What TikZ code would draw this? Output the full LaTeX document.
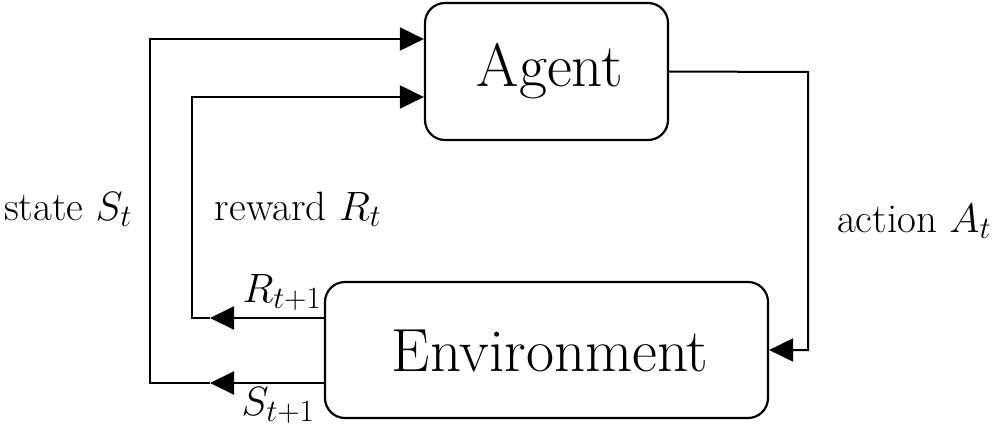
\documentclass[tikz,border=0pt]{standalone}
\usepackage{fix-cm}
\usetikzlibrary{arrows.meta}
\DeclareMathSizes{41}{41}{31}{24}
\tikzset{
  box/.style={draw, line width=2.2pt, rounded corners=20pt, inner sep=0pt},
  conn/.style={line width=2pt},
  arr/.style={conn, -{Triangle[length=24pt,width=23pt]}},
  bigtext/.style={font=\fontsize{61}{64}\selectfont, anchor=base, inner sep=0pt},
  lab/.style={font=\fontsize{41}{44}\selectfont, anchor=base, inner sep=0pt},
}
\begin{document}
\begin{tikzpicture}[x=1pt,y=-1pt]
\useasboundingbox (0,0) rectangle (1000,429);
% boxes
\node[box, minimum width=243pt, minimum height=137pt] (agent) at (546.5,71.5) {};
\node[box, minimum width=443pt, minimum height=136pt] (env) at (546.5,350) {};
\node[bigtext] (agenttext) at (550,86) {Agent};
\node[bigtext] (envtext) at (550,371) {Environment};
% coordinates
\coordinate (sb) at (150,383);
\coordinate (sm) at (210,383);
\coordinate (st) at (150,39);
\coordinate (rb) at (192,318);
\coordinate (rm) at (210,318);
\coordinate (rt) at (192,97);
\coordinate (ac) at (808,72);
% state
\draw[arr] (env.west |- sb) -- (sm);
\draw[arr] (sm) -- (sb) -- (st) -- (agent.west |- st);
% reward
\draw[arr] (env.west |- rb) -- (rm);
\draw[arr] (rm) -- (rb) -- (rt) -- (agent.west |- rt);
% action
\draw[arr] (agent.east) -- (ac) |- (env.east);
% labels
\node[lab] (lstate) at (68,220) {state $S_t$};
\node[lab] (lreward) at (298,220) {reward $R_t$};
\node[lab] (laction) at (914,232) {action $A_t$};
\node[lab] (lr1) at (282,302) {$R_{t+1}$};
\node[lab] (ls1) at (278,415) {$S_{t+1}$};
\end{tikzpicture}
\end{document}
